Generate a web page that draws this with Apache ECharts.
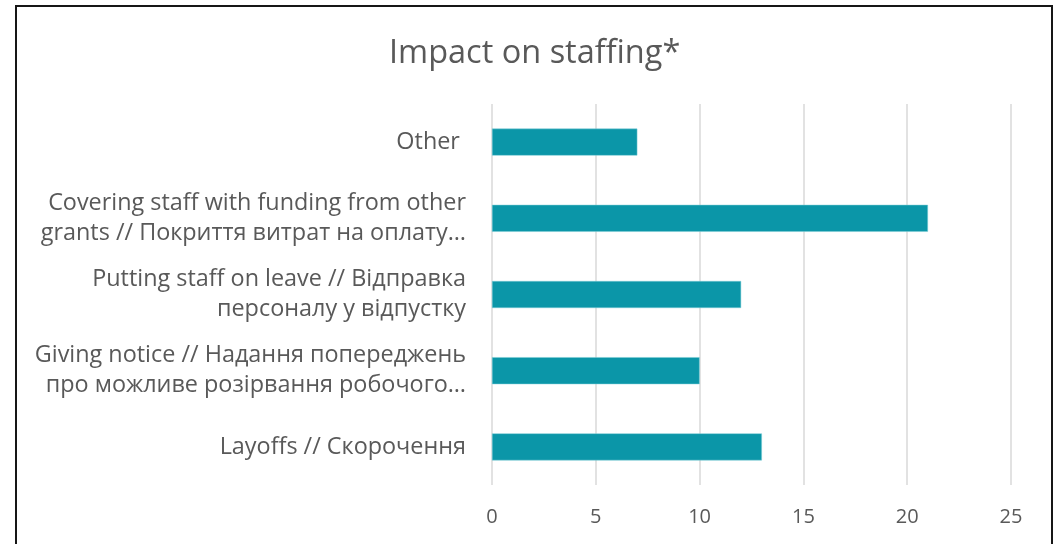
<!DOCTYPE html>
<html>
<head>
<meta charset="utf-8">
<script src="https://cdn.jsdelivr.net/npm/echarts@6/dist/echarts.min.js"></script>
<style>
  body { margin: 0; background: #fff; overflow: hidden; }
  #chart { position: absolute; left: 0; top: 0; width: 1053px; height: 544px; }
  /* dark frame round the chart, bottom edge is cut off */
  #frame { position: absolute; left: 15px; top: 5px; width: 1034px; height: 600px;
           border: 2.5px solid #161616; pointer-events: none; }
</style>
</head>
<body>
<div id="chart"></div>
<div id="frame"></div>
<script>
// data, top to bottom
const categories = [
  'Other ',
  'Covering staff with funding from other\ngrants // Покриття витрат на оплату…',
  'Putting staff on leave // Відправка\nперсоналу у відпустку',
  'Giving notice // Надання попереджень\nпро можливе розірвання робочого…',
  'Layoffs // Скорочення'
]
const values = [7, 21, 12, 10, 13]
const xTicks = [0, 25, 5] // min, max, interval

const textColor = '#595959'
const font = 'Open Sans'

const chart = echarts.init(document.getElementById('chart'))
const option = {
  animation: false,
  title: {
    text: 'Impact on staffing*',
    left: 389,
    top: 37,
    padding: 0,
    textStyle: {
      fontFamily: font,
      fontSize: 32.5,
      fontWeight: 'normal',
      color: textColor
    }
  },
  grid: {
    left: 492,
    right: 42,
    top: 104,
    bottom: 59
  },
  xAxis: {
    type: 'value',
    min: xTicks[0],
    max: xTicks[1],
    interval: xTicks[2],
    axisLine: { show: false },
    axisTick: { show: false },
    axisLabel: {
      margin: 22,
      fontFamily: font,
      fontSize: 20,
      color: textColor
    },
    splitLine: {
      lineStyle: { color: '#d9d9d9', width: 1.5 }
    }
  },
  yAxis: {
    type: 'category',
    inverse: true,
    data: categories,
    axisLine: { show: false },
    axisTick: { show: false },
    axisLabel: {
      margin: 26,
      fontFamily: font,
      fontSize: 23.4,
      lineHeight: 30,
      align: 'right',
      color: textColor
    }
  },
  series: [{
    type: 'bar',
    data: values,
    barWidth: 27,
    itemStyle: {
      color: '#0b96a8',
      borderColor: '#7ccdd6',
      borderWidth: 0.5
    }
  }]
}
chart.setOption(option)
</script>
</body>
</html>
